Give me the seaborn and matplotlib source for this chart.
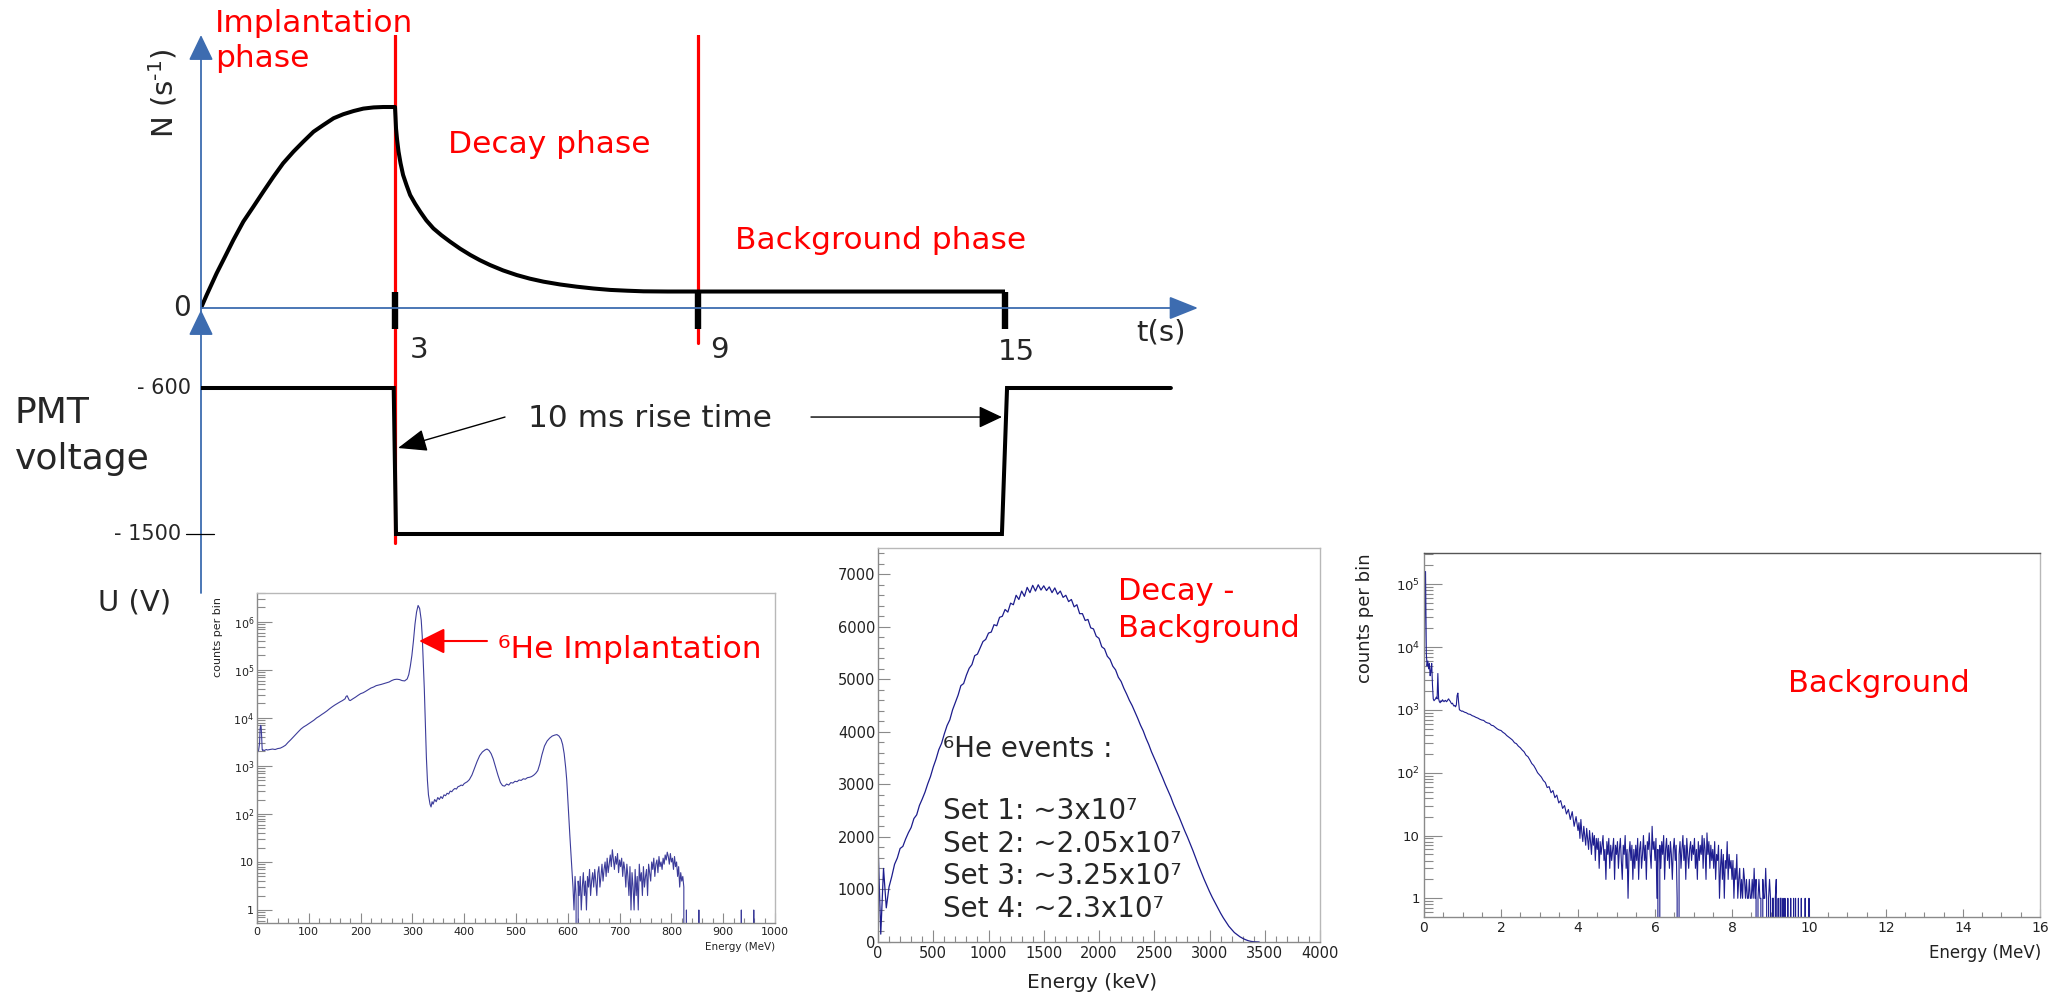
import numpy as np
import matplotlib
matplotlib.use("Agg")
import matplotlib.pyplot as plt
from matplotlib.ticker import FixedLocator, FixedFormatter, MultipleLocator, LogLocator, NullFormatter
import seaborn as sns

# ------------------------------------------------------------------ data
# schematic cycle (time in s)
phase_bounds = [3, 9]
time_ticks = [3, 9, 15]
time_tick_labels = ["3", "9", "15"]

# counting rate N(t), arbitrary units (peak = 1)
rate_t = [0, 0.088, 0.242, 0.371, 0.5, 0.655, 0.81, 0.964, 1.12, 1.27, 1.43, 1.58, 1.74, 1.89,
          2.05, 2.2, 2.36, 2.51, 2.67, 2.82, 3.0,
          3.01, 3.02, 3.04, 3.07, 3.11, 3.16, 3.23, 3.30, 3.40, 3.50, 3.62, 3.76, 3.92, 4.09,
          4.29, 4.49, 4.68, 4.88, 5.14, 5.41, 5.67, 5.94, 6.27, 6.60, 6.93, 7.26, 7.6, 7.92,
          8.4, 9.0, 12.0, 15.0]
rate_n = [0, 0.065, 0.173, 0.255, 0.338, 0.43, 0.504, 0.579, 0.653, 0.72, 0.778, 0.827, 0.877,
          0.91, 0.944, 0.964, 0.98, 0.992, 0.998, 1.0, 1.0,
          0.95, 0.894, 0.84, 0.778, 0.72, 0.662, 0.61, 0.562, 0.518, 0.479, 0.436, 0.396,
          0.362, 0.330, 0.295, 0.264, 0.238, 0.214, 0.187, 0.164, 0.146, 0.131, 0.117, 0.106,
          0.097, 0.090, 0.086, 0.083, 0.082, 0.082, 0.082, 0.082]
bkg_level = 0.082

# PMT voltage (V)
pmt_t = [0, 2.98, 3.02, 14.94, 15.04, 18.24]
pmt_u = [-600, -600, -1500, -1500, -600, -600]
pmt_levels = [-600, -1500]
pmt_level_labels = ["- 600", "- 1500"]

# 6He implantation spectrum (Energy in MeV, counts per bin)
impl_e = [0, 1, 3, 5, 6, 7, 8, 9, 10, 11, 12, 14, 16, 18, 20, 25, 30, 35, 40, 45, 50, 55, 60,
          65, 70, 75, 80, 85, 90, 95, 100, 105, 110, 115, 120, 125, 130, 135, 140, 145, 150,
          155, 160, 165, 170, 172, 174, 176, 178, 180, 185, 190, 195, 200, 205, 210, 215, 220,
          225, 230, 235, 240, 245, 250, 255, 260, 265, 270, 275, 280, 285, 290, 293, 296, 299,
          302, 305, 308, 311, 314, 317, 319, 321, 323, 325, 327, 329, 331, 334, 336, 338, 340,
          343, 346, 349, 352, 355, 358, 361, 364, 367, 370, 373, 376, 379, 382, 385, 388, 391,
          394, 397, 400, 403, 406, 410, 415, 420, 425, 430, 435, 440, 444, 448, 452, 456, 460,
          465, 470, 474, 478, 482, 486, 490, 494, 498, 502, 506, 510, 514, 518, 522, 526, 530,
          534, 538, 542, 546, 550, 555, 560, 565, 570, 575, 579, 583, 587, 590, 593, 596, 598,
          600, 602, 604, 606, 608]
impl_c = [800, 2000, 2100, 3000, 6000, 7000, 6500, 4000, 2200, 2100, 2150, 2100, 2150, 2200,
          2150, 2200, 2250, 2200, 2300, 2350, 2500, 2700, 3100, 3500, 4000, 4600, 5200, 5900,
          6500, 7000, 7600, 8300, 9000, 10000, 10800, 11800, 12800, 14000, 15500, 17000, 18500,
          20000, 21500, 23000, 25000, 28000, 29000, 26000, 23500, 23000, 25000, 27000, 29500,
          32000, 33500, 36000, 39000, 42000, 44000, 47000, 48500, 50000, 52000, 54000, 56000,
          60000, 63000, 64000, 63000, 60000, 59000, 65000, 80000, 120000, 200000, 400000,
          900000, 1600000, 2200000, 1900000, 1100000, 500000, 150000, 40000, 8000, 1500, 500,
          250, 160, 140, 180, 160, 200, 180, 220, 200, 230, 210, 250, 240, 270, 260, 300, 290,
          320, 340, 330, 370, 380, 400, 390, 430, 450, 470, 520, 650, 900, 1250, 1650, 1950,
          2150, 2250, 2100, 1800, 1400, 1000, 650, 450, 390, 380, 420, 400, 450, 440, 480, 470,
          510, 500, 540, 530, 570, 580, 600, 640, 700, 800, 1100, 1700, 2600, 3300, 3800, 4200,
          4400, 4500, 4200, 3600, 2800, 1800, 900, 500, 200, 80, 35, 15, 6]
impl_noise_start, impl_noise_step = 610, 2
impl_noise_c = [3, 1, 5, 2, 0, 4, 2, 5, 1, 3,
                6, 2, 4, 1, 5, 3, 7, 2, 4, 6,
                3, 7, 4, 2, 6, 8, 3, 5, 9, 4,
                7, 10, 5, 12, 6, 9, 14, 8, 18, 11,
                7, 13, 9, 15, 6, 11, 8, 12, 5, 10,
                7, 3, 9, 5, 2, 8, 1, 6, 3, 1,
                7, 2, 5, 1, 9, 4, 6, 2, 8, 3,
                5, 7, 2, 9, 6, 4, 10, 7, 12, 5,
                9, 11, 6, 13, 8, 10, 7, 12, 9, 14,
                11, 16, 13, 9, 15, 10, 12, 7, 13, 8,
                10, 5, 8, 3, 6, 4, 5, 3]
impl_tail_e = [826, 829, 832, 850, 853, 856, 932, 935, 938, 956, 959, 962, 1000]
impl_tail_c = [0, 1, 0, 0, 1, 0, 0, 1, 0, 0, 1, 0, 0]

# Decay - Background spectrum (25 keV bins)
decay_step = 25
decay_c = [1900, 150, 1400, 650, 1050, 1250, 1480, 1600, 1780, 1820,
           1960, 2080, 2180, 2350, 2420, 2600, 2720, 2850, 3010, 3150,
           3330, 3480, 3660, 3780, 3960, 4120, 4230, 4420, 4560, 4700,
           4880, 4920, 5080, 5210, 5280, 5450, 5480, 5600, 5720, 5760,
           5880, 5900, 6040, 6020, 6180, 6200, 6330, 6280, 6450, 6420,
           6600, 6520, 6680, 6580, 6750, 6650, 6790, 6680, 6800, 6700,
           6780, 6690, 6760, 6650, 6740, 6620, 6680, 6560, 6600, 6480,
           6520, 6380, 6420, 6250, 6250, 6120, 6140, 5980, 5960, 5820,
           5780, 5620, 5580, 5440, 5380, 5250, 5180, 5040, 4960, 4830,
           4720, 4600, 4500, 4380, 4260, 4130, 4020, 3880, 3760, 3620,
           3500, 3380, 3250, 3130, 3000, 2880, 2760, 2620, 2500, 2380,
           2250, 2120, 2000, 1870, 1740, 1600, 1460, 1330, 1200, 1080,
           960, 850, 750, 650, 550, 460, 380, 300, 240, 180,
           140, 100, 70, 45, 25, 12, 5, 2, 0]
he6_sets = ["Set 1", "Set 2", "Set 3", "Set 4"]
he6_events = ["~3x10\u2077", "~2.05x10\u2077", "~3.25x10\u2077", "~2.3x10\u2077"]

# Background spectrum (MeV)
bkg_fine_step = 0.02
bkg_fine_c = [1500, 30000, 160000, 8000, 5000, 6000, 4500, 5500, 3500, 4200,
              5500, 2500, 1500, 1400, 1450, 1500, 1600, 1500, 3800, 1500,
              1350, 1300, 1400, 1350, 1450, 1400, 1350, 1400, 1420, 1350,
              1380, 1450, 1500, 1420, 1380, 1300, 1250, 1280, 1200, 1150,
              1180, 1120, 1200, 1700, 1850, 1300, 1000, 990, 970, 950]
bkg_mid_start, bkg_mid_step = 1.0, 0.05
bkg_mid_c = [960, 920, 900, 860, 850, 810, 790, 760, 740, 710,
             690, 680, 640, 620, 610, 570, 560, 530, 500, 480,
             470, 440, 420, 390, 370, 350, 330, 300, 290, 265,
             250, 230, 215, 190, 180, 160, 140, 130, 115, 100,
             92, 85, 75, 70, 58, 60, 48, 52, 40, 44,
             33, 36, 27, 30, 22, 26, 18, 24, 14, 20]
bkg_noise_start, bkg_noise_step = 4.0, 0.025
bkg_noise_c = [12, 16, 9, 18, 11, 8, 14, 10, 7, 13, 9, 6, 12, 8, 5, 11, 7, 10, 4, 9,
               6, 9, 3, 8, 5, 7, 10, 4, 6, 2, 8, 5, 9, 3, 7, 4, 6, 9, 2, 7,
               5, 8, 3, 6, 9, 4, 2, 7, 5, 10, 3, 6, 1, 5, 8, 4, 7, 2, 6, 3,
               7, 4, 9, 2, 6, 8, 3, 5, 10, 4, 7, 2, 8, 6, 11, 5, 3, 14, 6, 8,
               4, 9, 1, 6, 0, 7, 3, 8, 5, 10, 2, 6, 9, 4, 7, 3, 8, 5, 2, 6,
               9, 4, 7, 1, 0, 5, 8, 3, 6, 10, 4, 7, 2, 9, 5, 3, 6, 8, 4, 7,
               5, 9, 3, 6, 2, 8, 4, 7, 5, 10, 3, 9, 6, 2, 11, 5, 8, 3, 7, 4,
               6, 3, 8, 2, 5, 4, 7, 1, 3, 6, 2, 5, 1, 4, 3, 8, 2, 5, 3, 4,
               2, 4, 1, 3, 2, 5, 1, 2, 3, 1, 2, 1, 3, 2, 1, 2, 1, 1, 2, 1,
               1, 2, 1, 3, 1, 2, 0, 1, 2, 1, 1, 0, 2, 1, 1, 3, 1, 0, 1, 2,
               1, 0, 1, 1, 0, 1, 2, 0, 1, 0, 1, 1, 0, 1, 0, 1, 0, 0, 1, 0,
               0, 1, 0, 0, 1, 0, 1, 0, 0, 1, 0, 0, 1, 0, 0, 0, 1, 0, 0, 0,
               1, 0, 0]

# ------------------------------------------------------------------ style
sns.set_theme(style="white")
plt.rcParams["font.family"] = ["DejaVu Sans"]
plt.rcParams["axes.unicode_minus"] = True

W, H = 2059, 993
fig = plt.figure(figsize=(W / 100, H / 100), dpi=100)
fig.patch.set_facecolor("white")


def rect(l, t, r, b):
    return [l / W, 1 - b / H, (r - l) / W, (b - t) / H]


def ftext(x, y, s, **kw):
    return fig.text(x / W, 1 - y / H, s, **kw)


RED = "#ff0000"
AXBLUE = "#3d6cb0"

# ------------------------------------------------------------------ schematic (top)
AX_L, AX_R, AX_T, AX_B = 201, 1198, 35, 593
T_KN = np.array([0.0, 3.0, 9.0, 15.0])
P_KN = np.array([0.0, 194.0, 497.0, 804.0])
SLOPE_HI = 51.2


def t2p(t):
    t = np.asarray(t, dtype=float)
    return np.where(t < 0, t * P_KN[1] / T_KN[1],
                    np.where(t > 15, P_KN[-1] + (t - 15) * SLOPE_HI, np.interp(t, T_KN, P_KN)))


def p2t(p):
    p = np.asarray(p, dtype=float)
    return np.where(p < 0, p * T_KN[1] / P_KN[1],
                    np.where(p > P_KN[-1], 15 + (p - P_KN[-1]) / SLOPE_HI, np.interp(p, P_KN, T_KN)))


t_end = float(p2t(AX_R - AX_L))

axN = fig.add_axes(rect(AX_L, AX_T, AX_R, AX_B))
axU = fig.add_axes(rect(AX_L, AX_T, AX_R, AX_B))

sns.lineplot(x=rate_t, y=rate_n, ax=axN, color="black", lw=2.9, estimator=None,
             solid_capstyle="butt", solid_joinstyle="round")
sns.lineplot(x=pmt_t, y=pmt_u, ax=axU, color="black", lw=2.9, estimator=None,
             solid_joinstyle="miter")

N0_PX, N_SCALE = 308, 201.0
U_PX, U_SCALE = 388, 146.0 / 900.0
for a in (axN, axU):
    a.set_xscale("function", functions=(t2p, p2t))
    a.set_xlim(0, t_end)
    a.set_axis_off()
    a.patch.set_alpha(0)
axN.set_ylim((N0_PX - AX_B) / N_SCALE, (N0_PX - AX_T) / N_SCALE)
axU.set_ylim(-600 - (AX_B - U_PX) / U_SCALE, -600 + (U_PX - AX_T) / U_SCALE)

# red phase boundaries
red_bottom_px = [543, 343]
for tb, pb in zip(phase_bounds, red_bottom_px):
    axN.axvline(tb, ymin=(AX_B - pb) / (AX_B - AX_T), ymax=1, color=RED, lw=2.3, zorder=1.5)

# black time ticks
tick_lo = (N0_PX - 329) / N_SCALE
axN.vlines(time_ticks, tick_lo, bkg_level, color="black", lw=4.6, zorder=3)

# blue axes with arrows
ytop, ybot = axN.get_ylim()[1], axN.get_ylim()[0]
axN.annotate("", xy=(0, ytop), xytext=(0, ybot), annotation_clip=False,
             arrowprops=dict(arrowstyle="-|>,head_length=15.8,head_width=7.6", mutation_scale=1,
                             color=AXBLUE, lw=1.3, shrinkA=0, shrinkB=0))
axN.annotate("", xy=(t_end, 0), xytext=(0, 0), annotation_clip=False,
             arrowprops=dict(arrowstyle="-|>,head_length=18,head_width=7.2", mutation_scale=1,
                             color=AXBLUE, lw=1.3, shrinkA=0, shrinkB=0))
axN.annotate("", xy=(0, -0.01), xytext=(0, -0.12), annotation_clip=False,
             arrowprops=dict(arrowstyle="-|>,head_length=15.8,head_width=7.6", mutation_scale=1,
                             color=AXBLUE, lw=1.3, shrinkA=0, shrinkB=0))

# -1500 tick
axU.plot(p2t(np.array([186, 214]) - AX_L), [pmt_levels[1]] * 2, color="black", lw=0.9,
         clip_on=False)

# rise-time arrows
axU.annotate("", xy=(3.06, -970), xytext=(float(p2t(505 - AX_L)), -779), annotation_clip=False,
             arrowprops=dict(arrowstyle="-|>,head_length=18,head_width=7", mutation_scale=1,
                             color="black", lw=1.0, shrinkA=0, shrinkB=0))
axU.annotate("", xy=(14.94, -779), xytext=(float(p2t(811 - AX_L)), -779), annotation_clip=False,
             arrowprops=dict(arrowstyle="-|>,head_length=14.4,head_width=6.8", mutation_scale=1,
                             color="black", lw=1.0, shrinkA=0, shrinkB=0))

# texts of schematic
ftext(215, 32, "Implantation", color=RED, fontsize=22.5, ha="left", va="baseline")
ftext(215, 67, "phase", color=RED, fontsize=22.5, ha="left", va="baseline")
ftext(448, 153, "Decay phase", color=RED, fontsize=22.5, ha="left", va="baseline")
ftext(735, 249, "Background phase", color=RED, fontsize=22.5, ha="left", va="baseline")
ftext(163, 93, r"N (s$^{\text{-}1}$)", rotation=90, fontsize=21, ha="center", va="center")
ftext(182, 308, "0", fontsize=20, ha="center", va="center")
tick_label_px = [(410, 358), (710, 358), (998, 360)]
for lab, (px, py) in zip(time_tick_labels, tick_label_px):
    ftext(px, py, lab, fontsize=21, ha="left", va="baseline")
ftext(1136, 340, "t(s)", fontsize=21, ha="left", va="baseline")
level_label_px = [(191, 388), (181, 534)]
for lab, (px, py) in zip(pmt_level_labels, level_label_px):
    ftext(px, py, lab, fontsize=15, ha="right", va="center")
ftext(15, 423, "PMT", fontsize=26, ha="left", va="baseline")
ftext(15, 469, "voltage", fontsize=26, ha="left", va="baseline")
ftext(650, 427, "10 ms rise time", fontsize=22.5, ha="center", va="baseline")
ftext(98, 603, "U (V)", fontsize=21, ha="left", va="center")

# ------------------------------------------------------------------ ROOT-like insets
LINE_TICK = "#8a8a8a"


def style_inset(ax, xmaj, xmin, xl, yl, lab_size_x, lab_size_y, pad_x=3, pad_y=2):
    ax.set_facecolor("white")
    for s in ax.spines.values():
        s.set_visible(True)
        s.set_color("#b8b8b8")
        s.set_linewidth(1.0)
    ax.spines["left"].set_color("#8a8a8a")
    ax.spines["bottom"].set_color("#8a8a8a")
    ax.xaxis.set_major_locator(MultipleLocator(xmaj))
    ax.xaxis.set_minor_locator(MultipleLocator(xmin))
    ax.tick_params(axis="x", which="major", direction="in", length=xl[0], width=0.8,
                   color=LINE_TICK, labelsize=lab_size_x, labelcolor="#222222", pad=pad_x,
                   top=False, bottom=True)
    ax.tick_params(axis="x", which="minor", direction="in", length=xl[1], width=0.8,
                   color=LINE_TICK, top=False, bottom=True)
    ax.tick_params(axis="y", which="major", direction="in", length=yl[0], width=0.8,
                   color=LINE_TICK, labelsize=lab_size_y, labelcolor="#222222", pad=pad_y,
                   left=True, right=False)
    ax.tick_params(axis="y", which="minor", direction="in", length=yl[1], width=0.8,
                   color=LINE_TICK, left=True, right=False)
    ax.set_xlabel("")
    ax.set_ylabel("")
    ax.grid(False)


def log_ticks(ax, top_exp):
    decs = [10.0 ** k for k in range(0, top_exp + 1)]
    labs = ["1", "10"] + [r"$10^{%d}$" % k for k in range(2, top_exp + 1)]
    ax.yaxis.set_major_locator(FixedLocator(decs))
    ax.yaxis.set_major_formatter(FixedFormatter(labs))
    ax.yaxis.set_minor_locator(LogLocator(base=10, subs=np.arange(2, 10), numticks=30))
    ax.yaxis.set_minor_formatter(NullFormatter())


# --- inset 1 : implantation
ax1 = fig.add_axes(rect(257, 593, 775, 923))
e1 = np.concatenate([impl_e,
                     impl_noise_start + impl_noise_step * np.arange(len(impl_noise_c)),
                     impl_tail_e])
c1 = np.concatenate([impl_c, impl_noise_c, impl_tail_c]).astype(float)
sns.lineplot(x=e1, y=c1, ax=ax1, color="#3c3c9a", lw=0.8, estimator=None)
ax1.set_yscale("log", nonpositive="clip")
ax1.set_xlim(0, 1000)
ax1.set_ylim(0.536, 4.0e6)
style_inset(ax1, 100, 20, (7, 3.5), (11, 6), 8, 8)
log_ticks(ax1, 6)
ftext(218, 597, "counts per bin", rotation=90, fontsize=8, ha="center", va="top", color="#222")
ftext(775, 947, "Energy (MeV)", fontsize=7.5, ha="right", va="center", color="#222")
ftext(498, 658, "\u2076He Implantation", color=RED, fontsize=22.5, ha="left", va="baseline")
ax1.annotate("", xy=(313, 4e5), xytext=(444, 4e5), annotation_clip=False,
             arrowprops=dict(arrowstyle="-|>,head_length=15.8,head_width=7.9", mutation_scale=1,
                             color=RED, lw=1.5, shrinkA=0, shrinkB=0))

# --- inset 2 : decay - background
ax2 = fig.add_axes(rect(878, 548, 1320, 942))
e2 = decay_step * np.arange(len(decay_c))
sns.lineplot(x=e2, y=decay_c, ax=ax2, color="#1c1c8c", lw=0.9, estimator=None)
ax2.set_xlim(0, 4000)
ax2.set_ylim(0, 7500)
style_inset(ax2, 500, 100, (8.5, 4.5), (8.5, 4.5), 10.5, 10.5, pad_x=3, pad_y=2)
ax2.yaxis.set_major_locator(MultipleLocator(1000))
ax2.yaxis.set_minor_locator(MultipleLocator(200))
ftext(1092, 982, "Energy (keV)", fontsize=14.5, ha="center", va="center", color="#222")
ftext(1118, 600, "Decay -", color=RED, fontsize=22, ha="left", va="baseline")
ftext(1118, 637, "Background", color=RED, fontsize=22, ha="left", va="baseline")
ftext(943, 757, "\u2076He events :", fontsize=20, ha="left", va="baseline")
set_baselines = [819, 852, 884, 917]
for name, val, by in zip(he6_sets, he6_events, set_baselines):
    ftext(943, by, f"{name}: {val}", fontsize=20, ha="left", va="baseline")

# --- inset 3 : background
ax3 = fig.add_axes(rect(1424, 553, 2040, 917))
e3 = np.concatenate([bkg_fine_step * np.arange(len(bkg_fine_c)),
                     bkg_mid_start + bkg_mid_step * np.arange(len(bkg_mid_c)),
                     bkg_noise_start + bkg_noise_step * np.arange(len(bkg_noise_c))])
c3 = np.concatenate([bkg_fine_c, bkg_mid_c, bkg_noise_c]).astype(float)
sns.lineplot(x=e3, y=c3, ax=ax3, color="#1e1e90", lw=0.8, estimator=None)
ax3.set_yscale("log", nonpositive="clip")
ax3.set_xlim(0, 16)
ax3.set_ylim(0.504, 3.15e5)
style_inset(ax3, 2, 0.5, (6, 3.5), (13, 6.5), 10, 9.5, pad_x=3, pad_y=3)
log_ticks(ax3, 5)
ax3.spines["top"].set_color("#555555")
ftext(1365, 553, "counts per bin", rotation=90, fontsize=13, ha="center", va="top", color="#222")
ftext(2041, 953, "Energy (MeV)", fontsize=12, ha="right", va="center", color="#222")
ftext(1879, 683, "Background", color=RED, fontsize=22, ha="center", va="center")

fig.savefig("out.png", dpi=100, facecolor="white")
